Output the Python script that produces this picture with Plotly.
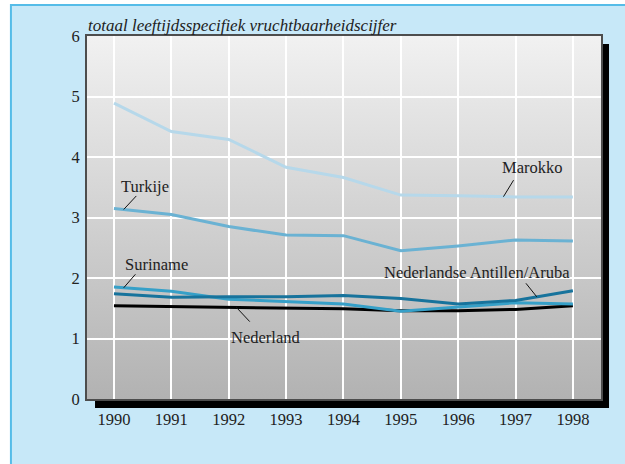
import base64
import plotly.graph_objects as go

years = [1990, 1991, 1992, 1993, 1994, 1995, 1996, 1997, 1998]
marokko = [4.89, 4.42, 4.29, 3.83, 3.66, 3.37, 3.36, 3.34, 3.34]
turkije = [3.15, 3.05, 2.85, 2.71, 2.70, 2.45, 2.53, 2.63, 2.61]
suriname = [1.85, 1.78, 1.65, 1.61, 1.57, 1.45, 1.52, 1.59, 1.57]
antillen = [1.74, 1.68, 1.69, 1.69, 1.71, 1.66, 1.57, 1.63, 1.79]
nederland = [1.54, 1.53, 1.52, 1.51, 1.49, 1.46, 1.46, 1.48, 1.54]

series = [
    ("Marokko", marokko, "#b6d8ea"),
    ("Turkije", turkije, "#6ab2d3"),
    ("Nederland", nederland, "#000000"),
    ("Suriname", suriname, "#36a0c8"),
    ("Nederlandse Antillen/Aruba", antillen, "#17739c"),
]

FONT = "Liberation Serif"

fig = go.Figure()
for name, vals, col in series:
    fig.add_trace(go.Scatter(x=years, y=vals, mode="lines", name=name,
                             line=dict(color=col, width=3), showlegend=False,
                             hoverinfo="skip"))

shapes = []
# outer light-blue panel
shapes.append(dict(type="rect", xref="paper", yref="paper", x0=-0.148, x1=1.2, y0=-0.25, y1=1.0854,
                   fillcolor="#c7e8f8", line=dict(color="#55bce8", width=2), layer="below"))
# drop shadow
shapes.append(dict(type="rect", xref="paper", yref="paper", x0=0.0156, x1=1.0156, y0=-0.0248, y1=0.978,
                   fillcolor="#000000", line=dict(width=0), layer="below"))

# gradient background as an SVG image
svg = ('<svg xmlns="http://www.w3.org/2000/svg" width="100" height="100" viewBox="0 0 100 100" '
       'preserveAspectRatio="none"><defs><linearGradient id="g" x1="0" y1="0" x2="0" y2="1">'
       '<stop offset="0" stop-color="#f1f1f1"/><stop offset="1" stop-color="#b2b2b2"/>'
       '</linearGradient></defs><rect width="100" height="100" fill="url(#g)"/></svg>')
src = "data:image/svg+xml;base64," + base64.b64encode(svg.encode()).decode()
xr = [1989.53, 1998.49]
yr = [0, 6]
images = [dict(source=src, xref="x", yref="y", x=xr[0], y=yr[1],
               sizex=xr[1] - xr[0], sizey=yr[1] - yr[0], xanchor="left", yanchor="top",
               sizing="stretch", layer="below")]

# labels
labels = [
    ("Turkije", 1990.54, 3.51),
    ("Suriname", 1990.75, 2.23),
    ("Marokko", 1997.3, 3.82),
    ("Nederlandse Antillen/Aruba", 1996.33, 2.09),
    ("Nederland", 1992.65, 1.02),
]
annotations = []
for txt, x, y in labels:
    annotations.append(dict(text=txt, x=x, y=y, xref="x", yref="y", showarrow=False,
                            font=dict(family=FONT, size=16.5, color="#222222"),
                            xanchor="center", yanchor="middle"))

# leader lines: anchored on data point, tail offset in pixels
leaders = [
    (1990.17, turkije[0] + (turkije[1] - turkije[0]) * 0.17, 14, -15),
    (1990.17, suriname[0] + (suriname[1] - suriname[0]) * 0.17, 13, -15),
    (1996.79, marokko[6] + (marokko[7] - marokko[6]) * 0.79, 11, -18),
    (1997.37, antillen[7] + (antillen[8] - antillen[7]) * 0.37, -12, -15),
    (1992.13, nederland[2] + (nederland[3] - nederland[2]) * 0.13, 15, 16),
]
for x, y, ax, ay in leaders:
    annotations.append(dict(text="", x=x, y=y, xref="x", yref="y", ax=ax, ay=ay,
                            showarrow=True, arrowhead=0, arrowwidth=1, arrowcolor="#111111",
                            standoff=0, startstandoff=0))

annotations.append(dict(text="<i>totaal leeftijdsspecifiek vruchtbaarheidscijfer</i>",
                        x=0, y=1.03, xref="paper", yref="paper", showarrow=False,
                        xanchor="left", yanchor="middle", xshift=-1,
                        font=dict(family=FONT, size=17, color="#222222")))

fig.update_layout(
    width=625, height=464,
    margin=dict(l=87, r=24, t=36, b=65),
    paper_bgcolor="#ffffff",
    plot_bgcolor="#d0d0d0",
    shapes=shapes,
    images=images,
    annotations=annotations,
    hovermode=False,
    font=dict(family=FONT, size=16.5, color="#222222"),
    xaxis=dict(range=xr, tickmode="array", tickvals=years,
               ticktext=[str(y) for y in years],
               showgrid=True, gridcolor="#ffffff", gridwidth=1.5, zeroline=False,
               showline=True, linecolor="#4d4d4d", linewidth=2, mirror=True,
               ticks="outside", ticklen=4, tickcolor="rgba(0,0,0,0)",
               tickfont=dict(family=FONT, size=16.5, color="#222222")),
    yaxis=dict(range=yr, dtick=1, tick0=0,
               showgrid=True, gridcolor="#ffffff", gridwidth=1.5, zeroline=False,
               showline=True, linecolor="#4d4d4d", linewidth=2, mirror=True,
               ticks="outside", ticklen=2, tickcolor="rgba(0,0,0,0)",
               tickfont=dict(family=FONT, size=16.5, color="#222222")),
)

fig.write_html("out.html", config={"displayModeBar": False},
               post_script="document.body.style.margin='0';")
